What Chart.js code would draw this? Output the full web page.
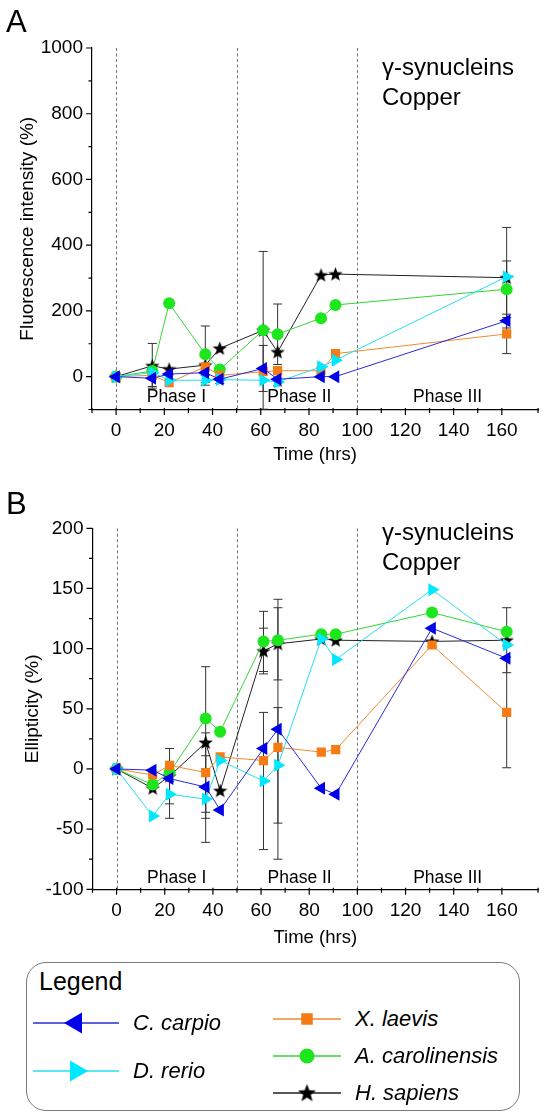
<!DOCTYPE html>
<html>
  <head>
    <title>
      gamma-synucleins copper
    </title>
    <script src="https://cdn.jsdelivr.net/npm/chart.js"></script>
    <style>
      body { margin: 0; background: #fff; font-family: "Liberation Sans", Arial, sans-serif; }
      #page { position: relative; width: 550px; height: 1119px; overflow: hidden; }
      .panel { position: absolute; left: 0; width: 550px; }
      .letter { position: absolute; left: 6px; font-size: 31px; line-height: 1; }
      .note { position: absolute; left: 382px; font-size: 24px; line-height: 30px; }
      #legend { position: absolute; left: 26px; top: 962px; width: 494px; height: 149px;
                border: 1.3px solid #7a7a7a; border-radius: 20px; box-sizing: border-box; }
      #legend .title { position: absolute; left: 12px; top: 4px; font-size: 25px; }
      .item { position: absolute; height: 30px; display: flex; align-items: center; font-style: italic; font-size: 22px; }
      .item canvas { margin-right: 14px; }
    </style>
  </head>
  <body>
    <div id="page">
      <div class="panel" style="top:0;height:470px"><canvas id="chartA" width="550" height="470"></canvas></div>
      <div class="panel" style="top:470px;height:480px"><canvas id="chartB" width="550" height="480"></canvas></div>
      <div class="letter" style="top:6px">A</div>
      <div class="letter" style="top:488px">B</div>
      <div class="note" style="top:52px">γ-synucleins<br>Copper</div>
      <div class="note" style="top:517px">γ-synucleins<br>Copper</div>
      <div id="legend"><div class="title">Legend</div></div>
    </div>
    <script>
      'use strict'
      // time points (hrs)
      const timesA = [0, 15, 22, 37, 43, 61, 67, 85, 91, 162];
      const timesB = [0, 15, 22, 37, 43, 61, 67, 85, 91, 131, 162];

      const species = ['C. carpio', 'D. rerio', 'X. laevis', 'A. carolinensis', 'H. sapiens'];

      // panel A - fluorescence intensity (%)
      const carpioA = [0, -5, 8, 12, -8, 25, -8, 0, 0, 170];
      const rerioA = [0, 12, -11, -11, -9, -11, -16, 30, 50, 304];
      const laevisA = [0, 4, -18, 30, 4, 15, 18, 18, 70, 130];
      const carolA = [0, 17, 223, 68, 22, 141, 129, 178, 218, 266];
      const sapiensA = [0, 33, 23, 35, 86, 141, 75, 309, 312, 301];

      const carpioErrA = [null, 25, null, null, null, 70, null, null, null, null];
      const rerioErrA = [null, null, null, 15, 12, null, 12, null, null, null];
      const laevisErrA = [null, null, null, null, null, null, null, null, null, 60];
      const carolErrA = [null, null, null, 86, null, null, 92, null, null, 86];
      const sapiensErrA = [null, 68, null, null, null, 240, null, null, null, 153];

      // panel B - ellipticity (%)
      const carpioB = [0, -1, -8, -15, -34, 17, 33, -16, -21, 117, 92];
      const rerioB = [0, -39, -21, -25, 7, -10, 3, 108, 91, 149, 103];
      const laevisB = [0, -5, 3, -3, 10, 7, 18, 14, 16, 103, 47];
      const carolB = [0, -13, -3, 42, 31, 106, 107, 112, 112, 130, 114];
      const sapiensB = [0, -16, -6, 22, -18, 98, 104, 108, 107, 106, 107];

      const carpioErrB = [null, null, null, null, null, null, 108, null, null, null, null];
      const rerioErrB = [null, null, 20, 36, null, 57, 48, null, null, null, null];
      const laevisErrB = [null, null, null, 33, null, null, null, null, null, null, 46];
      const carolErrB = [null, null, null, null, null, 25, null, null, null, null, null];
      const sapiensErrB = [null, null, 23, 63, null, 19, 30, null, null, null, 27];

      const phaseNames = ['Phase I', 'Phase II', 'Phase III'];
      const phaseCenters = [25, 76, 137.5];
      const phaseBounds = [0, 50, 100];

      const FONT = '"Liberation Sans", Arial, sans-serif';

      // filled five point star for H. sapiens
      function makeStar(size) {
        const c = document.createElement('canvas');
        c.width = size; c.height = size;
        const g = c.getContext('2d');
        const r = size / 2, ri = r * 0.42;
        g.beginPath();
        for (let i = 0; i < 10; i++) {
          const rad = i % 2 ? ri : r;
          const a = -Math.PI / 2 + i * Math.PI / 5;
          g.lineTo(r + rad * Math.cos(a), r + 0.5 + rad * Math.sin(a));
        }
        g.closePath();
        g.fillStyle = '#000';
        g.fill();
        return c;
      }
      const star = makeStar(15);
      const bigStar = makeStar(19);

      const styles = [
        { color: '#2a2ad8', fill: '#0000e8', pointStyle: 'triangle', rotation: -90, radius: 7.5 },
        { color: '#22e0f0', fill: '#00e8ff', pointStyle: 'triangle', rotation: 90, radius: 7.5 },
        { color: '#f08a30', fill: '#f77b14', pointStyle: 'rect', rotation: 0, radius: 6.5 },
        { color: '#33d633', fill: '#1ee61e', pointStyle: 'circle', rotation: 0, radius: 6 },
        { color: '#222', fill: '#000', pointStyle: star, rotation: 0, radius: 7 },
      ];

      function makeDatasets(times, series, errs) {
        return series.map((vals, k) => ({
          label: species[k],
          data: vals.map((v, i) => ({ x: times[i], y: v })),
          err: errs[k],
          borderColor: styles[k].color,
          borderWidth: 1,
          backgroundColor: styles[k].fill,
          pointBackgroundColor: styles[k].fill,
          pointBorderColor: styles[k].fill,
          pointBorderWidth: 0,
          pointStyle: styles[k].pointStyle,
          pointRotation: styles[k].rotation,
          pointRadius: styles[k].radius,
          tension: 0,
        }));
      }

      const extras = {
        id: 'extras',
        beforeDatasetsDraw(chart, args, opts) {
          const { ctx, chartArea: a, scales: { x, y } } = chart;
          ctx.save();
          ctx.strokeStyle = '#555';
          ctx.lineWidth = 0.8;
          ctx.setLineDash([3, 2.5]);
          phaseBounds.forEach(v => {
            const px = Math.round(x.getPixelForValue(v)) + 0.5;
            ctx.beginPath(); ctx.moveTo(px, a.top); ctx.lineTo(px, a.bottom); ctx.stroke();
          });
          ctx.setLineDash([]);
          ctx.fillStyle = '#000';
          ctx.font = '17.5px ' + FONT;
          ctx.textAlign = 'center';
          ctx.textBaseline = 'middle';
          phaseNames.forEach((t, i) => {
            ctx.fillText(t, x.getPixelForValue(phaseCenters[i]), y.getPixelForValue(opts.labelY));
          });
          // error bars
          ctx.strokeStyle = '#333';
          ctx.lineWidth = 1;
          chart.data.datasets.forEach(ds => {
            ds.data.forEach((p, i) => {
              const e = ds.err[i];
              if (e == null) return;
              const px = x.getPixelForValue(p.x);
              const y1 = y.getPixelForValue(p.y + e), y2 = y.getPixelForValue(p.y - e);
              ctx.beginPath();
              ctx.moveTo(px, y1); ctx.lineTo(px, y2);
              ctx.moveTo(px - 4.5, y1); ctx.lineTo(px + 4.5, y1);
              ctx.moveTo(px - 4.5, y2); ctx.lineTo(px + 4.5, y2);
              ctx.stroke();
            });
          });
          ctx.restore();
        },
        afterDraw(chart, args, opts) {
          const { ctx, chartArea: a, scales: { x, y } } = chart;
          ctx.save();
          ctx.strokeStyle = '#000';
          ctx.lineWidth = 1.2;
          ctx.beginPath();
          y.ticks.forEach(t => {
            const py = y.getPixelForValue(t.value);
            const len = t.value % opts.yMajor === 0 ? 6 : 3.5;
            ctx.moveTo(a.left, py); ctx.lineTo(a.left - len, py);
          });
          x.ticks.forEach(t => {
            const px = x.getPixelForValue(t.value);
            const len = t.value % 20 === 0 ? 5.5 : 3.5;
            ctx.moveTo(px, a.bottom - 1.5); ctx.lineTo(px, a.bottom + len);
          });
          ctx.stroke();
          ctx.restore();
        }
      };

      function makeOptions(cfg) {
        return {
          responsive: false,
          animation: false,
          layout: { padding: { top: cfg.top, right: 12, left: 0, bottom: 0 } },
          plugins: {
            legend: { display: false },
            tooltip: { enabled: false },
            extras: { labelY: cfg.labelY, yMajor: cfg.yMajor },
          },
          scales: {
            x: {
              type: 'linear', min: -10, max: 175,
              afterFit: s => { s.height = cfg.xHeight; },
              grid: { display: false, drawTicks: false },
              border: { display: true, color: '#000', width: 1.2 },
              ticks: {
                stepSize: 10, padding: 10, color: '#000', maxRotation: 0, autoSkip: false,
                font: { family: FONT, size: 19 },
                callback: v => (v % 20 === 0 ? v : ''),
              },
              title: { display: true, text: 'Time (hrs)', color: '#000', font: { family: FONT, size: 18.5 }, padding: { top: 0, bottom: cfg.xTitlePad } },
            },
            y: {
              min: cfg.yMin, max: cfg.yMax,
              afterFit: s => { s.width = cfg.yWidth; },
              grid: { display: false, drawTicks: false },
              border: { display: true, color: '#000', width: 1.2 },
              ticks: {
                stepSize: cfg.yMajor / 2, padding: 9, color: '#000', autoSkip: false,
                font: { family: FONT, size: 19 },
                callback: v => (v % cfg.yMajor === 0 ? v : ''),
              },
              title: { display: true, text: cfg.yTitle, color: '#000', font: { family: FONT, size: 19 }, padding: { top: cfg.yTitlePad, bottom: 0 } },
            },
          },
        };
      }

      new Chart(document.getElementById('chartA'), {
        type: 'line',
        data: { datasets: makeDatasets(timesA, [carpioA, rerioA, laevisA, carolA, sapiensA], [carpioErrA, rerioErrA, laevisErrA, carolErrA, sapiensErrA]) },
        options: makeOptions({ top: 48, xHeight: 60.5, yWidth: 92, yMin: -100, yMax: 1000, yMajor: 200, yTitle: 'Fluorescence intensity (%)', yTitlePad: 16, xTitlePad: 4, labelY: -62 }),
        plugins: [extras],
      });

      new Chart(document.getElementById('chartB'), {
        type: 'line',
        data: { datasets: makeDatasets(timesB, [carpioB, rerioB, laevisB, carolB, sapiensB], [carpioErrB, rerioErrB, laevisErrB, carolErrB, sapiensErrB]) },
        options: makeOptions({ top: 58.3, xHeight: 60.7, yWidth: 92.5, yMin: -100, yMax: 200, yMajor: 50, yTitle: 'Ellipticity (%)', yTitlePad: 21, xTitlePad: 1, labelY: -91 }),
        plugins: [extras],
      });

      // legend, two columns
      const legendPos = [
        { left: 6, top: 61 }, { left: 6, top: 109 },
        { left: 246, top: 57 }, { left: 246, top: 94 }, { left: 246, top: 131 },
      ];
      const iconWidth = [86, 86, 68, 68, 68];
      const box = document.getElementById('legend');
      species.forEach((name, k) => {
        const item = document.createElement('div');
        item.className = 'item';
        item.style.left = legendPos[k].left + 'px';
        item.style.top = (legendPos[k].top - 16) + 'px';
        const c = document.createElement('canvas');
        c.width = iconWidth[k]; c.height = 30;
        const g = c.getContext('2d');
        g.strokeStyle = styles[k].color;
        g.lineWidth = 1.3;
        g.beginPath(); g.moveTo(0, 15); g.lineTo(c.width, 15); g.stroke();
        g.fillStyle = styles[k].fill;
        const big = k < 2 ? 1.6 : 1.25;
        Chart.helpers.drawPoint(g, {
          pointStyle: k === 4 ? bigStar : styles[k].pointStyle, rotation: styles[k].rotation,
          radius: styles[k].radius * big, borderWidth: 0,
        }, c.width / 2, 15);
        item.appendChild(c);
        const span = document.createElement('span');
        span.textContent = name;
        item.appendChild(span);
        box.appendChild(item);
      });
    </script>
  </body>
</html>
